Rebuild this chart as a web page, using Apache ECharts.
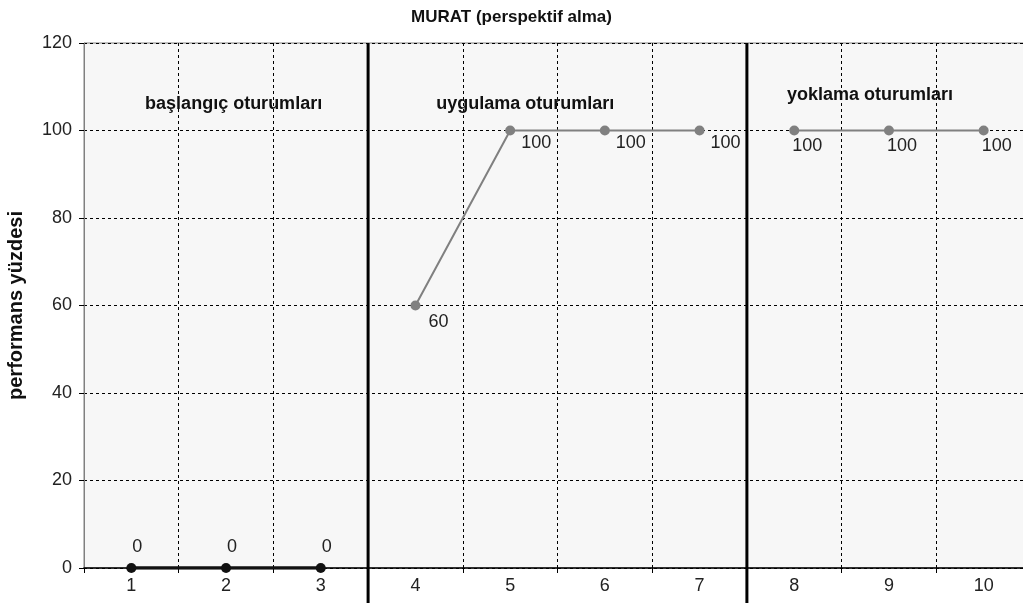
<!DOCTYPE html>
<html><head><meta charset="utf-8">
<script src="https://cdn.jsdelivr.net/npm/echarts@6/dist/echarts.min.js"></script>
<style>html,body{margin:0;padding:0;background:#fff}#c{width:1023px;height:608px}</style>
</head><body><div id="c"></div>
<script>
const categories = ['1','2','3','4','5','6','7','8','9','10'];
const baseline = [0, 0, 0];          // sessions 1-3
const intervention = [60, 100, 100, 100]; // sessions 4-7
const probe = [100, 100, 100];       // sessions 8-10
const phaseBreaks = [3.5, 7.5];
const phaseNames = ['başlangıç oturumları', 'uygulama oturumları', 'yoklama oturumları'];
const yTicks = [0, 20, 40, 60, 80, 100, 120];

const n = categories.length;
function pad(arr, start) {
  const out = new Array(n).fill('-');
  arr.forEach((v, i) => { out[start + i] = v; });
  return out;
}
const FONT = '"Liberation Sans", Arial, sans-serif';
const chart = echarts.init(document.getElementById('c'));
const breakSeries = phaseBreaks.map(b => ({
  type: 'line', xAxisIndex: 1, yAxisIndex: 0, clip: false, symbol: 'none', silent: true,
  data: [[b, -8], [b, 120]], lineStyle: { color: '#000', width: 3 }, z: 5
}));
chart.setOption({
  animation: false,
  textStyle: { fontFamily: FONT },
  title: { text: 'MURAT (perspektif alma)', left: 'center', top: 4,
    textStyle: { fontFamily: FONT, fontWeight: 'bold', fontSize: 17, color: '#111' } },
  grid: { left: 84, top: 43, width: 947, height: 525, show: true, outerBoundsMode: 'none',
    backgroundColor: '#f7f7f7', borderColor: '#808080', borderWidth: 1 },
  xAxis: [{
    type: 'category', data: categories, boundaryGap: true,
    axisLine: { lineStyle: { color: '#000', width: 1.5 } },
    axisTick: { show: true, length: 5, lineStyle: { color: '#000' } },
    axisLabel: { fontSize: 18, color: '#222', margin: 9, fontFamily: FONT },
    splitLine: { show: true, lineStyle: { color: '#000', type: [3, 3], width: 1 } }
  }, {
    type: 'value', min: 0.5, max: 10.5, show: false
  }],
  yAxis: {
    type: 'value', min: 0, max: 120, interval: 20,
    name: 'performans yüzdesi', nameLocation: 'middle', nameGap: 58,
    nameTextStyle: { fontFamily: FONT, fontWeight: 'bold', fontSize: 20, color: '#111' },
    axisLine: { show: true, lineStyle: { color: '#808080' } },
    axisTick: { show: true, length: 5, lineStyle: { color: '#000' } },
    axisLabel: { fontSize: 18, color: '#222', margin: 12, fontFamily: FONT },
    splitLine: { show: true, lineStyle: { color: '#000', type: [3, 3], width: 1 } }
  },
  graphic: [],
  series: [{
    type: 'line', data: pad(baseline, 0), symbol: 'circle', symbolSize: 10,
    itemStyle: { color: '#111' }, lineStyle: { color: '#111', width: 3.5 }, z: 6,
    label: { show: true, position: 'top', offset: [6, -2], fontSize: 18, color: '#222', fontFamily: FONT }
  }, {
    type: 'line', data: pad(intervention, 3).map((v, i) => i === 3 ?
      { value: v, label: { offset: [3, 17] } } : v),
    symbol: 'circle', symbolSize: 10,
    itemStyle: { color: '#808080' }, lineStyle: { color: '#808080', width: 2 }, z: 6,
    label: { show: true, position: 'right', offset: [1, 13], fontSize: 18, color: '#222', fontFamily: FONT }
  }, {
    type: 'line', data: pad(probe, 7), symbol: 'circle', symbolSize: 10,
    itemStyle: { color: '#808080' }, lineStyle: { color: '#808080', width: 2 }, z: 6,
    label: { show: true, position: 'bottom', offset: [13, -3], fontSize: 18, color: '#222', fontFamily: FONT }
  }, ...breakSeries]
});

// phase titles placed at data coordinates via the chart's own scales
const phaseCenters = [2.08, 5.16, 8.8];
const phaseY = [106, 106, 108];
const g = phaseNames.map((t, i) => {
  const p = chart.convertToPixel({ xAxisIndex: 1, yAxisIndex: 0 }, [phaseCenters[i], phaseY[i]]);
  return { type: 'text', x: p[0], y: p[1], z: 10,
    style: { text: t, font: 'bold 18px ' + FONT, fill: '#111', textAlign: 'center', textVerticalAlign: 'middle' } };
});
chart.setOption({ graphic: g });
</script></body></html>
